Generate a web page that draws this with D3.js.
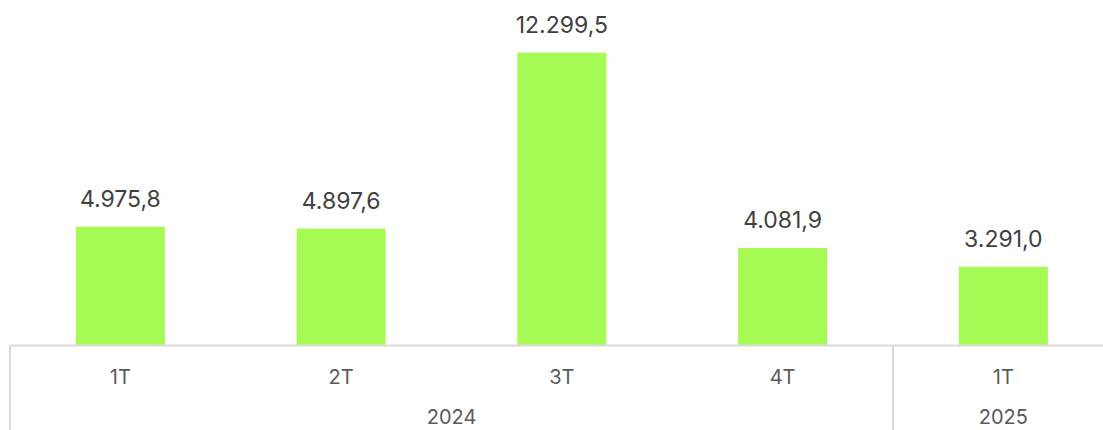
<!DOCTYPE html>
<html>
<head>
<meta charset="utf-8">
<script src="https://cdn.jsdelivr.net/npm/d3@7/dist/d3.min.js"></script>
<style>
  body { margin: 0; background: #fff; }
  svg { display: block; font-family: Inter, "Noto Sans", sans-serif; }
</style>
</head>
<body>
<div id="wrapper"></div>
<script>
// data
const quarters = ['1T', '2T', '3T', '4T', '1T']
const years = ['2024', '2024', '2024', '2024', '2025']
const values = [4975.8, 4897.6, 12299.5, 4081.9, 3291.0]

const yearGroups = [
    { year: '2024', from: 0, to: 4 },
    { year: '2025', from: 4, to: 5 }
]

const width = 1103
const height = 430
const baseline = 345

const barColor = '#a5fb53'
const lineColor = '#d9d9d9'

const fmt = v => d3.format(',.1f')(v).replace(/,/g, '#').replace('.', ',').replace(/#/g, '.')

const svg = d3.select('#wrapper').append('svg')
    .attr('width', width)
    .attr('height', height)

const x = d3.scaleBand()
    .domain(d3.range(values.length))
    .range([10, 10 + 220.75 * values.length])
    .paddingInner(0.597)
    .paddingOuter(0.2985)

const step = x.step()
const x0 = 10

const y = d3.scaleLinear()
    .domain([0, 12299.5])
    .range([baseline, 52.7])

// bars
svg.selectAll('.bar')
    .data(values)
    .enter().append('rect')
    .attr('class', 'bar')
    .attr('x', (d, i) => x(i))
    .attr('y', d => y(d))
    .attr('width', x.bandwidth())
    .attr('height', d => baseline - y(d))
    .attr('fill', barColor)

// value labels
svg.selectAll('.val')
    .data(values)
    .enter().append('text')
    .attr('class', 'val')
    .attr('x', (d, i) => x(i) + x.bandwidth() / 2)
    .attr('y', d => y(d) - 20)
    .attr('text-anchor', 'middle')
    .attr('font-size', 23)
    .attr('fill', '#404040')
    .text(d => fmt(d))

// axis lines
svg.append('line')
    .attr('x1', x0).attr('x2', width)
    .attr('y1', baseline + 0.5).attr('y2', baseline + 0.5)
    .attr('stroke', lineColor).attr('stroke-width', 2)

// group separators
const seps = [0, 4, 5]
svg.selectAll('.sep')
    .data(seps)
    .enter().append('line')
    .attr('x1', d => x0 + step * d)
    .attr('x2', d => x0 + step * d)
    .attr('y1', baseline)
    .attr('y2', height)
    .attr('stroke', lineColor).attr('stroke-width', 2)

// quarter labels
svg.selectAll('.q')
    .data(quarters)
    .enter().append('text')
    .attr('x', (d, i) => x(i) + x.bandwidth() / 2)
    .attr('y', 384)
    .attr('text-anchor', 'middle')
    .attr('font-size', 20)
    .attr('fill', '#595959')
    .text(d => d)

// year labels
svg.selectAll('.yr')
    .data(yearGroups)
    .enter().append('text')
    .attr('x', d => x0 + step * (d.from + d.to) / 2)
    .attr('y', 424)
    .attr('text-anchor', 'middle')
    .attr('font-size', 20)
    .attr('fill', '#595959')
    .text(d => d.year)
</script>
</body>
</html>
